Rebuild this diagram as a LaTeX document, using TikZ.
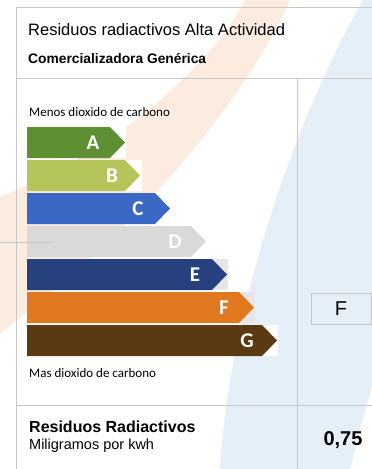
\documentclass[tikz,border=0pt]{standalone}
\usepackage{xcolor}
\usepackage{fontspec}
\setmainfont{Liberation Sans}
\newfontfamily\calibri{Carlito}
\usepackage{tikz}
\usetikzlibrary{calc}

\definecolor{ruleGrey}{HTML}{C8C8C8}
\definecolor{markOrange}{HTML}{FCEBDF}
\definecolor{markBlue}{HTML}{E5EFF8}
\definecolor{gradeA}{HTML}{5E8F32}
\definecolor{gradeB}{HTML}{B5C55C}
\definecolor{gradeC}{HTML}{3A68C4}
\definecolor{gradeD}{HTML}{D9D9D9}
\definecolor{gradeE}{HTML}{27417F}
\definecolor{gradeF}{HTML}{E0781F}
\definecolor{gradeG}{HTML}{5A3A10}
\definecolor{backGrey}{HTML}{E6E6E6}

\begin{document}
\begin{tikzpicture}[
        x=1pt, y=-1pt,
        rule/.style={draw=ruleGrey, line width=0.9pt},
        grade/.style={inner sep=0pt, text=white, font=\calibri\bfseries\fontsize{21}{21}\selectfont},
        small/.style={anchor=base west, inner sep=0pt, font=\calibri\fontsize{13}{13}\selectfont},
        label/.style={anchor=base west, inner sep=0pt}
    ]
        \useasboundingbox (0,0) rectangle (372,469);

        % ===== 水印 =====
        \fill[markOrange] (245,0) .. controls (215,60) and (120,150) .. (0,197)
            -- (0,333) .. controls (150,220) and (250,90) .. (290,0) -- cycle;
        \fill[markBlue] (363,0) .. controls (300,110) and (230,300) .. (220,469)
            -- (350,469) -- (372,385) -- (372,0) -- cycle;

        % ===== 表格线 =====
        \draw[rule] (372,7) -- (16,7) -- (16,469);
        \draw[rule] (16,78) -- (372,78);
        \draw[rule] (297,78) -- (297,469);
        \draw[rule] (16,405) -- (372,405);

        % ===== 标题 =====
        \node (title) [label, font=\fontsize{16.5}{16.5}\selectfont] at (28,35) {Residuos radiactivos Alta Actividad};
        \node (company) [label, font=\bfseries\fontsize{13.8}{14}\selectfont] at (28,63) {Comercializadora Genérica};

        % ===== 等级条 =====
        \node (less) [small] at (29,116) {Menos dioxido de carbono};

        \fill[white] (27,127) rectangle (126,158);
        \fill[gradeA] (27,127) -- (110,127) -- (125,142.5) -- (110,158) -- (27,158) -- cycle;
        \fill[white] (27,160) rectangle (142,191);
        \fill[gradeB] (27,160) -- (125,160) -- (140,175.5) -- (125,191) -- (27,191) -- cycle;
        \fill[gradeC] (27,193) -- (155,193) -- (170,208.5) -- (155,224) -- (27,224) -- cycle;
        \fill[gradeD] (27,226) -- (191,226) -- (206,241.5) -- (191,257) -- (27,257) -- cycle;
        \fill[backGrey] (27,259) rectangle (228,290);
        \fill[gradeE] (27,259) -- (212,259) -- (227,274.5) -- (212,290) -- (27,290) -- cycle;
        \fill[backGrey] (27,292) rectangle (255,323);
        \fill[gradeF] (27,292) -- (239,292) -- (254,307.5) -- (239,323) -- (27,323) -- cycle;
        \fill[white] (27,325) rectangle (278,356);
        \fill[gradeG] (27,325) -- (262,325) -- (277,340.5) -- (262,356) -- (27,356) -- cycle;

        \node (lblA) [grade] at (93,142.5) {A};
        \node (lblB) [grade] at (112,175.5) {B};
        \node (lblC) [grade] at (138,208.5) {C};
        \node (lblD) [grade] at (175,241.5) {D};
        \node (lblE) [grade] at (195,274.5) {E};
        \node (lblF) [grade] at (224,307.5) {F};
        \node (lblG) [grade] at (247,340.5) {G};

        \draw[rule] (0,242) -- (53,242);

        \node (more) [small] at (29,377) {Mas dioxido de carbono};

        % ===== 结果 =====
        \node (result) [draw=ruleGrey, line width=0.9pt, minimum width=60pt, minimum height=31pt,
            font=\fontsize{20}{20}\selectfont] at (341,308.5) {F};

        \node (waste) [label, font=\bfseries\fontsize{16}{16}\selectfont] at (29,432) {Residuos Radiactivos};
        \node (unit) [label, font=\fontsize{14.5}{15}\selectfont] at (29,449) {Miligramos por kwh};
        \node (value) [label, anchor=base, font=\bfseries\fontsize{20}{20}\selectfont] at (343,445) {0,75};

    \end{tikzpicture}
\end{document}
